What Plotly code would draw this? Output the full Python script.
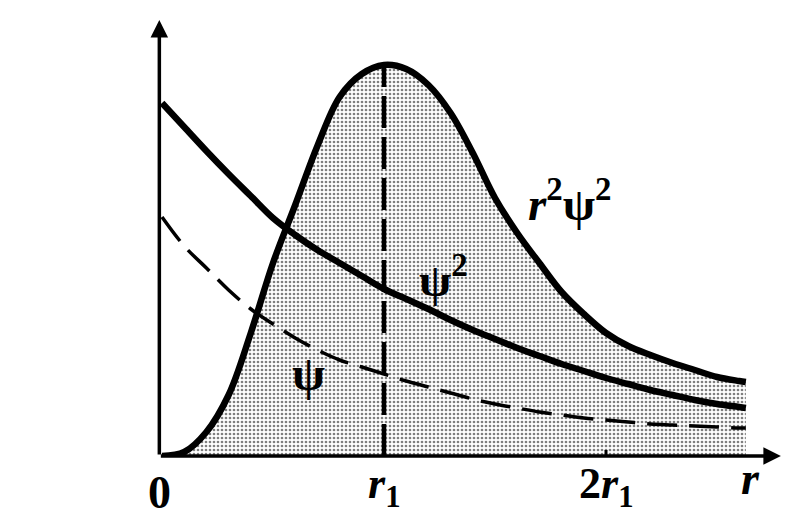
import plotly.graph_objects as go

# radius in units of r1
r = [0.0, 0.1, 0.2, 0.3, 0.4, 0.5, 0.6, 0.7, 0.8, 0.9, 1.0, 1.1, 1.2, 1.3,
     1.4, 1.5, 1.6, 1.7, 1.8, 1.9, 2.0, 2.1, 2.2, 2.3, 2.4, 2.5, 2.6, 2.63]
# radial probability density r^2 psi^2 (arbitrary units)
r2psi2 = [0.00, 0.04, 0.24, 0.61, 1.23, 1.93, 2.51, 3.10, 3.59, 3.82, 3.91,
          3.87, 3.71, 3.43, 3.03, 2.58, 2.23, 1.93, 1.64, 1.42, 1.23, 1.10,
          1.01, 0.93, 0.86, 0.79, 0.75, 0.74]
# psi^2 (arbitrary units)
psi2 = [3.53, 3.29, 3.05, 2.82, 2.60, 2.38, 2.21, 2.06, 1.93, 1.80, 1.67,
        1.57, 1.47, 1.36, 1.26, 1.17, 1.08, 1.00, 0.92, 0.85, 0.78, 0.72,
        0.66, 0.61, 0.56, 0.52, 0.49, 0.48]
# psi (arbitrary units)
psi = [2.39, 2.10, 1.88, 1.66, 1.47, 1.32, 1.18, 1.06, 0.96, 0.89, 0.82,
       0.75, 0.69, 0.63, 0.57, 0.52, 0.48, 0.44, 0.41, 0.38, 0.36, 0.34,
       0.32, 0.31, 0.30, 0.29, 0.28, 0.28]

tick_pos = [1, 2]
tick_text = ["<i>r</i><sub>1</sub>", "2<i>r</i><sub>1</sub>"]

FONT = "Liberation Serif"
PX = 222.0  # pixels per r1

fig = go.Figure()

fig.add_trace(go.Scatter(
    x=r, y=r2psi2, mode="lines", line=dict(color="black", width=6.5, shape="spline"),
    fill="tozeroy",
    fillpattern=dict(shape=".", fgcolor="black", bgcolor="white", size=4, solidity=0.36),
    hoverinfo="skip"))

# vertical dashed line at r1 (from axis to the peak)
peak = max(r2psi2)
fig.add_trace(go.Scatter(
    x=[tick_pos[0], tick_pos[0]], y=[0, peak], mode="lines",
    line=dict(color="black", width=4.5, dash="32px,9px"), hoverinfo="skip"))

fig.add_trace(go.Scatter(
    x=r, y=psi2, mode="lines", line=dict(color="black", width=6.5, shape="spline"),
    hoverinfo="skip"))

fig.add_trace(go.Scatter(
    x=r, y=psi, mode="lines",
    line=dict(color="black", width=3.5, dash="30px,12px", shape="spline"),
    hoverinfo="skip"))

x_min = -6 / PX
x_max = x_min + 626 / PX
y_max = 4.36

fig.update_layout(
    width=792, height=523,
    margin=dict(l=148, r=18, t=12, b=75),
    paper_bgcolor="white", plot_bgcolor="white",
    showlegend=False,
    xaxis=dict(range=[x_min, x_max], showgrid=False, zeroline=False, showticklabels=False,
               showline=False, ticks=""),
    yaxis=dict(range=[0, y_max], showgrid=False, zeroline=False, showticklabels=False,
               showline=False, ticks=""),
)

# axes with arrows
fig.add_annotation(x=x_max - 0.005, y=0, ax=-0.012, ay=0, axref="x", ayref="y",
                   xref="x", yref="y", showarrow=True, arrowhead=2, arrowsize=1.0,
                   arrowwidth=3.5, arrowcolor="black", text="")
fig.add_annotation(x=-0.012, y=y_max, ax=-0.012, ay=0, axref="x", ayref="y",
                   xref="x", yref="y", showarrow=True, arrowhead=2, arrowsize=1.0,
                   arrowwidth=3.5, arrowcolor="black", text="")

# tick mark at 2r1
fig.add_shape(type="line", x0=tick_pos[1], x1=tick_pos[1], y0=-0.05, y1=0.06,
              xref="x", yref="y", line=dict(color="black", width=3))

# tick labels
fig.add_annotation(x=-0.01, y=0, xref="x", yref="y", text="<b>0</b>", showarrow=False,
                   yshift=-36, font=dict(family=FONT, size=46, color="black"))
for p, t in zip(tick_pos, tick_text):
    fig.add_annotation(x=p, y=0, xref="x", yref="y", text="<b>" + t + "</b>",
                       showarrow=False, yshift=-30,
                       font=dict(family=FONT, size=44, color="black"))
fig.add_annotation(x=2.65, y=0, xref="x", yref="y", text="<b><i>r</i></b>",
                   showarrow=False, yshift=-22, font=dict(family=FONT, size=46, color="black"))

# curve labels
fig.add_annotation(x=1.84, y=2.56, xref="x", yref="y",
                   text="<b><i>r</i><sup>2</sup>ψ<sup>2</sup></b>", showarrow=False,
                   font=dict(family=FONT, size=47, color="black"))
fig.add_annotation(x=1.27, y=1.80, xref="x", yref="y",
                   text="<b>ψ<sup>2</sup></b>", showarrow=False,
                   font=dict(family=FONT, size=47, color="black"))
fig.add_annotation(x=0.66, y=0.83, xref="x", yref="y",
                   text="<b>ψ</b>", showarrow=False,
                   font=dict(family=FONT, size=48, color="black"))

fig.write_html("out.html")
